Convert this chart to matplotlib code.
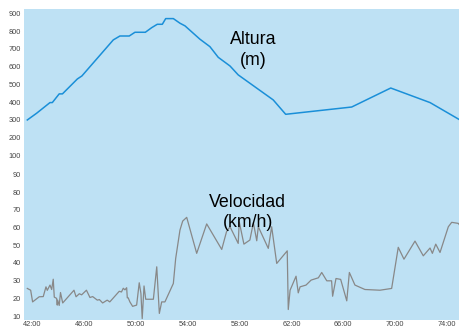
import matplotlib
matplotlib.use("Agg")
import matplotlib.pyplot as plt
from matplotlib.ticker import FuncFormatter

# time in minutes
alt_t = [41.64, 42.36, 43.39, 43.57, 44.1, 44.35, 45.5, 45.85, 48.27, 48.78, 49.5, 49.94,
         50.74, 51.23, 51.66, 52.05, 52.31, 52.9, 53.41, 53.8, 54.95, 55.72, 56.36, 57.27,
         57.9, 60.6, 61.56, 66.65, 69.66, 72.69, 75.0]
alt_m = [300, 338, 398, 398, 447, 447, 531, 548, 751, 773, 773, 794,
         794, 820, 839, 839, 871, 871, 845, 830, 755, 713, 653, 604,
         554, 413, 332, 373, 480, 398, 300]

vel_t = [41.64, 41.9, 42.05, 42.56, 42.87, 43.08, 43.18, 43.39, 43.52, 43.64, 43.72, 43.9,
         43.95, 43.98, 44.1, 44.2, 44.37, 45.24, 45.4, 45.65, 45.83, 46.2, 46.47, 46.68,
         47.04, 47.2, 47.45, 47.8, 48.0, 48.73, 48.9, 49.04, 49.17, 49.3, 49.35, 49.42,
         49.55, 49.76, 50.07, 50.27, 50.4, 50.5, 50.64, 50.77, 51.36, 51.62, 51.82, 52.0,
         52.25, 52.9, 53.08, 53.41, 53.62, 53.93, 54.7, 55.47, 56.63, 57.0, 57.27,
         57.9, 57.98, 58.34, 58.8, 59.07, 59.33, 59.45, 60.22, 60.48, 60.87, 61.68, 61.76,
         61.9, 62.36, 62.53, 62.67, 63.13, 63.52, 64.08, 64.34, 64.73, 65.1, 65.18, 65.44,
         65.8, 66.27, 66.47, 66.9, 67.67, 68.83, 69.73, 70.24, 70.68, 71.53, 72.17, 72.69,
         72.87, 73.13, 73.46, 74.1, 74.36, 74.87, 75.0]
vel_kmh = [25.6, 24.6, 18.0, 20.9, 21.0, 26.5, 24.5, 27.5, 25.0, 30.8, 20.7, 20.0,
           16.2, 19.0, 16.0, 23.3, 17.4, 24.6, 20.9, 22.6, 22.0, 24.6, 20.5, 21.0,
           19.0, 19.3, 17.4, 19.0, 18.0, 24.0, 23.6, 25.7, 24.8, 26.0, 20.3, 20.3,
           18.0, 15.5, 16.2, 28.8, 22.8, 8.6, 27.0, 19.5, 19.5, 37.8, 11.5, 18.0,
           18.0, 28.4, 42.5, 58.5, 63.6, 65.7, 45.4, 62.0, 47.6, 57.6, 60.4,
           51.0, 63.2, 50.6, 52.9, 62.7, 52.5, 60.4, 48.2, 60.4, 39.7, 46.8, 13.7,
           24.6, 32.5, 23.1, 26.5, 27.5, 30.3, 31.6, 34.6, 29.9, 29.9, 21.2, 31.2,
           30.7, 18.6, 34.6, 27.5, 25.0, 24.6, 25.6, 48.8, 42.1, 52.3, 44.0, 48.4,
           45.4, 50.6, 45.9, 60.4, 62.9, 62.3, 61.0]

x_ticks = [42, 46, 50, 54, 58, 62, 66, 70, 74]
alt_ticks = [100, 200, 300, 400, 500, 600, 700, 800, 900]
vel_ticks = [10, 20, 30, 40, 50, 60, 70, 80, 90]

bg = '#bee1f4'
plt.rcParams['font.family'] = ['Liberation Sans', 'DejaVu Sans']

fig = plt.figure(figsize=(4.6, 3.29), dpi=100)
ax1 = fig.add_axes([0.052, 0.5015, 0.948, 0.4711])
ax2 = fig.add_axes([0.052, 0.0274, 0.948, 0.4741], sharex=ax1)

for ax in (ax1, ax2):
    ax.set_facecolor(bg)
    for s in ax.spines.values():
        s.set_visible(False)
    ax.tick_params(length=0, labelsize=5.3, colors='#444444', pad=2)

ax1.plot(alt_t, alt_m, color='#1a8fd8', lw=1.1)
ax2.plot(vel_t, vel_kmh, color='#888888', lw=0.9)

ax1.set_ylim(52, 925)
ax2.set_ylim(7.8, 95.8)
ax1.set_yticks(alt_ticks)
ax2.set_yticks(vel_ticks)
ax1.set_xlim(41.38, 75.0)
ax2.set_xticks(x_ticks)
ax2.xaxis.set_major_formatter(FuncFormatter(lambda v, p: '%02d:00' % int(round(v))))
ax1.tick_params(axis='x', labelbottom=False)
ax2.tick_params(axis='x', pad=1)

ax1.text(0.525, 0.735, 'Altura\n(m)', transform=ax1.transAxes, ha='center', va='center',
         fontsize=12.8, linespacing=1.3)
ax2.text(0.513, 0.69, 'Velocidad\n(km/h)', transform=ax2.transAxes, ha='center', va='center',
         fontsize=12.8, linespacing=1.2)

fig.savefig('out.png', dpi=100)
